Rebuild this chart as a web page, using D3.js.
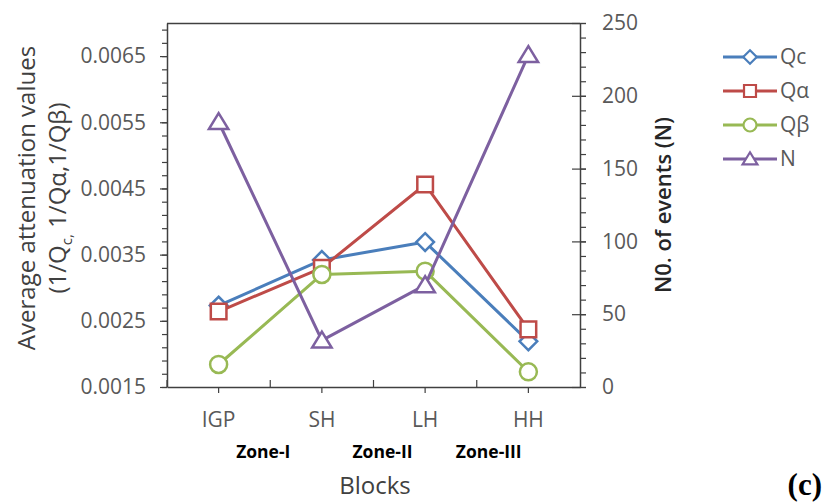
<!DOCTYPE html>
<html>
<head>
<meta charset="utf-8">
<script src="https://cdn.jsdelivr.net/npm/d3@7"></script>
<style>
  body { margin: 0; background: #fff; }
  svg { display: block; font-family: "Open Sans", sans-serif; }
</style>
</head>
<body>
<script>
// Chart data
const blocks = ["IGP", "SH", "LH", "HH"];
const zones = ["Zone-I", "Zone-II", "Zone-III"];
const qc = [0.00273, 0.00342, 0.00369, 0.00219];
const qAlpha = [0.00264, 0.00330, 0.00456, 0.00237];
const qBeta = [0.00184, 0.00320, 0.00325, 0.00173];
const events = [182, 32, 70, 228];
const leftTicks = [0.0015, 0.0025, 0.0035, 0.0045, 0.0055, 0.0065];
const rightTicks = [0, 50, 100, 150, 200, 250];

const series = [
  {name: "Qc", values: qc, color: "#4a7ebb", symbol: "diamond", axis: "left"},
  {name: "Q\u03b1", values: qAlpha, color: "#be4b48", symbol: "square", axis: "left"},
  {name: "Q\u03b2", values: qBeta, color: "#98b954", symbol: "circle", axis: "left"},
  {name: "N", values: events, color: "#7d60a0", symbol: "triangle", axis: "right"}
];

const W = 825, H = 504;
const plot = {left: 167, right: 580, top: 23, bottom: 387};

const svg = d3.select("body").append("svg")
  .attr("width", W).attr("height", H);

const x = d3.scaleBand().domain(blocks).range([plot.left, plot.right]);
const yL = d3.scaleLinear().domain([0.0015, 0.007]).range([plot.bottom, plot.top]);
const yR = d3.scaleLinear().domain([0, 250]).range([plot.bottom, plot.top]);

const axisColor = "#404040";
const labelColor = "#595959";
const tickFont = 21;

// frame top
svg.append("line")
  .attr("x1", plot.left).attr("x2", plot.right)
  .attr("y1", plot.top + 0.5).attr("y2", plot.top + 0.5)
  .attr("stroke", axisColor).attr("stroke-width", 1.3);

// left axis
const leftMinor = d3.range(15, 71, 2).map(d => d / 10000);
svg.append("g")
  .attr("transform", `translate(${plot.left},0)`)
  .call(d3.axisLeft(yL).tickValues(leftMinor).tickSize(5).tickFormat(""))
  .call(g => g.select(".domain").remove())
  .call(g => g.selectAll("line").attr("stroke", axisColor).attr("stroke-width", 1.2));
svg.append("g")
  .attr("transform", `translate(${plot.left},0)`)
  .call(d3.axisLeft(yL).tickValues(leftTicks).tickSize(7).tickSizeOuter(0).tickPadding(14)
    .tickFormat(d3.format(".4f")))
  .call(g => g.select(".domain").attr("stroke", axisColor).attr("stroke-width", 1.5))
  .call(g => g.selectAll("line").attr("stroke", axisColor).attr("stroke-width", 1.2))
  .call(g => g.selectAll("text").attr("fill", labelColor).attr("font-size", tickFont).attr("font-family", "Open Sans"));

// right axis
const rightMinor = d3.range(0, 251, 10);
svg.append("g")
  .attr("transform", `translate(${plot.right},0)`)
  .call(d3.axisRight(yR).tickValues(rightMinor).tickSize(6).tickFormat(""))
  .call(g => g.select(".domain").remove())
  .call(g => g.selectAll("line").attr("stroke", axisColor).attr("stroke-width", 1.2));
svg.append("g")
  .attr("transform", `translate(${plot.right},0)`)
  .call(d3.axisRight(yR).tickValues(rightTicks).tickSize(6).tickSizeOuter(0).tickPadding(16))
  .call(g => g.select(".domain").attr("stroke", axisColor).attr("stroke-width", 1.5))
  .call(g => g.selectAll(".tick line").attr("x1", -8).attr("stroke", axisColor).attr("stroke-width", 1.2))
  .call(g => g.selectAll("text").attr("fill", labelColor).attr("font-size", tickFont).attr("font-family", "Open Sans"));

// bottom axis
svg.append("g")
  .attr("transform", `translate(0,${plot.bottom})`)
  .call(d3.axisBottom(x).tickSize(6).tickSizeOuter(0).tickPadding(19))
  .call(g => g.select(".domain").attr("stroke", axisColor).attr("stroke-width", 1.5))
  .call(g => g.selectAll("line").attr("stroke", axisColor).attr("stroke-width", 1.2))
  .call(g => g.selectAll("text").attr("fill", labelColor).attr("font-size", tickFont).attr("font-family", "Open Sans"));
// boundary ticks pointing up
svg.append("g").selectAll("line")
  .data(blocks)
  .join("line")
  .attr("x1", d => x(d)).attr("x2", d => x(d))
  .attr("y1", plot.bottom).attr("y2", plot.bottom - 7)
  .attr("stroke", axisColor).attr("stroke-width", 1.2);

// series
function markerPath(type, size) {
  if (type === "diamond") {
    const r = size * 0.52;
    return `M0,${-r}L${r},0L0,${r}L${-r},0Z`;
  }
  if (type === "square") {
    const r = size * 0.46;
    return `M${-r},${-r}H${r}V${r}H${-r}Z`;
  }
  if (type === "circle") {
    const r = size * 0.5;
    return `M${r},0A${r},${r},0,1,1,${-r},0A${r},${r},0,1,1,${r},0Z`;
  }
  const r = size * 0.52;
  return `M0,${-r}L${r * 1.1},${r * 0.8}L${-r * 1.1},${r * 0.8}Z`;
}

const cx = d => x(d) + x.bandwidth() / 2;
series.forEach(s => {
  const y = s.axis === "left" ? yL : yR;
  const line = d3.line().x((d, i) => cx(blocks[i])).y(d => y(d));
  const g = svg.append("g");
  g.append("path")
    .attr("d", line(s.values))
    .attr("fill", "none")
    .attr("stroke", s.color)
    .attr("stroke-width", 3)
    .attr("stroke-linejoin", "round");
  g.selectAll("path.mk")
    .data(s.values)
    .join("path")
    .attr("class", "mk")
    .attr("transform", (d, i) => `translate(${cx(blocks[i])},${y(d)})`)
    .attr("d", markerPath(s.symbol, 17))
    .attr("fill", "#fff")
    .attr("stroke", s.color)
    .attr("stroke-width", 2.5);
});

// legend
const legend = svg.append("g").attr("transform", "translate(723,57)");
const row = legend.selectAll("g")
  .data(series)
  .join("g")
  .attr("transform", (d, i) => `translate(0,${i * 34})`);
row.append("line")
  .attr("x1", 0).attr("x2", 54)
  .attr("stroke", d => d.color).attr("stroke-width", 3);
row.append("path")
  .attr("transform", "translate(27,0)")
  .attr("d", d => markerPath(d.symbol, 13))
  .attr("fill", "#fff")
  .attr("stroke", d => d.color)
  .attr("stroke-width", 2.2);
row.append("text")
  .attr("x", 57).attr("dy", "0.35em")
  .attr("fill", labelColor).attr("font-size", tickFont)
  .text(d => d.name);

// axis titles
const leftTitle = svg.append("g")
  .attr("transform", "translate(27,198) rotate(-90)");
leftTitle.append("text")
  .attr("text-anchor", "middle").attr("dy", "0.35em")
  .attr("fill", axisColor).attr("font-size", 24)
  .text("Average attenuation values");
const lt2 = leftTitle.append("text")
  .attr("y", 31)
  .attr("text-anchor", "middle").attr("dy", "0.35em")
  .attr("fill", axisColor).attr("font-size", 24);
lt2.append("tspan").text("(1/Q");
lt2.append("tspan").attr("font-size", 15).attr("dy", "6").text("c,");
lt2.append("tspan").attr("dy", "-6").text(" 1/Q\u03b1,1/Q\u03b2)");

svg.append("text")
  .attr("transform", "translate(663,205) rotate(-90)")
  .attr("text-anchor", "middle").attr("dy", "0.35em")
  .attr("fill", "#262626").attr("font-size", 22).attr("font-weight", 600)
  .text("N0. of events (N)");

// zone labels sit just off the block boundaries
const zoneShift = [-7, 9, 12];
svg.append("g").selectAll("text")
  .data(zones)
  .join("text")
  .attr("x", (d, i) => x(blocks[i + 1]) + zoneShift[i])
  .attr("y", 458)
  .attr("text-anchor", "middle")
  .attr("fill", "#000").attr("font-size", 17.5).attr("font-weight", 700)
  .text(d => d);

svg.append("text")
  .attr("x", 375).attr("y", 494)
  .attr("text-anchor", "middle")
  .attr("fill", axisColor).attr("font-size", 24)
  .text("Blocks");

svg.append("text")
  .attr("x", 822).attr("y", 495)
  .attr("text-anchor", "end")
  .attr("font-family", "Liberation Serif").attr("font-weight", 700)
  .attr("font-size", 31).attr("fill", "#000")
  .text("(c)");
</script>
</body>
</html>
